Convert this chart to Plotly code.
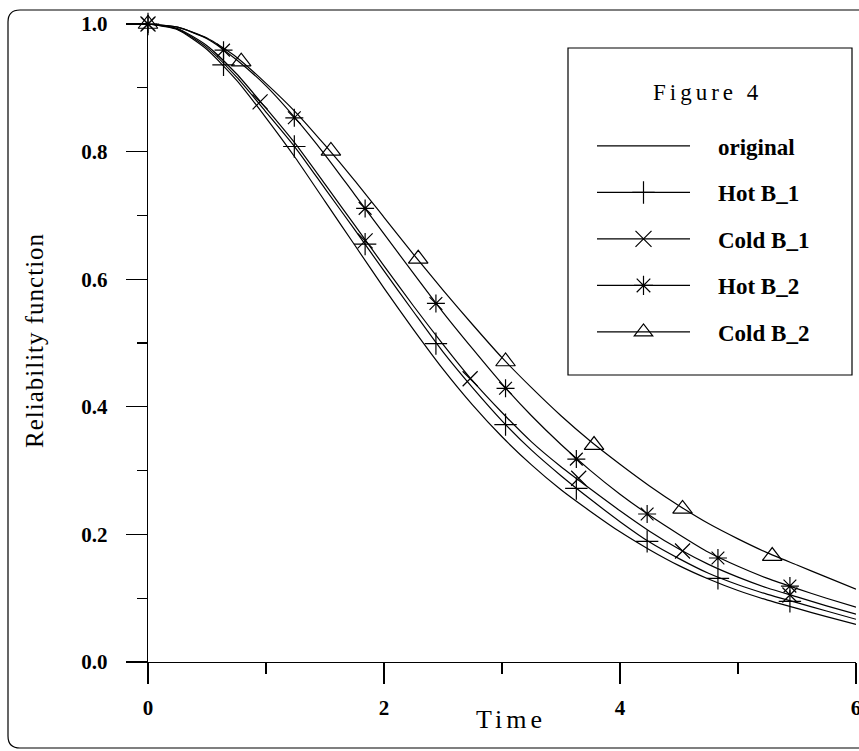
import plotly.graph_objects as go

# ---------------- data ----------------
x_grid = [0, 0.25, 0.5, 0.75, 1.0, 1.25, 1.5, 1.75, 2.0, 2.25, 2.5, 2.75, 3.0,
          3.25, 3.5, 3.75, 4.0, 4.25, 4.5, 4.75, 5.0, 5.25, 5.5, 5.75, 6.0]

original = [1.0, 0.991, 0.960, 0.912, 0.853, 0.790, 0.722, 0.654, 0.586, 0.521, 0.459, 0.403, 0.353,
            0.309, 0.270, 0.236, 0.204, 0.176, 0.151, 0.130, 0.112, 0.097, 0.084, 0.071, 0.059]
hot_b1 = [1.0, 0.992, 0.963, 0.917, 0.862, 0.806, 0.742, 0.678, 0.613, 0.549, 0.486, 0.430, 0.378,
          0.332, 0.292, 0.255, 0.220, 0.188, 0.162, 0.139, 0.121, 0.106, 0.093, 0.080, 0.067]
cold_b1 = [1.0, 0.993, 0.966, 0.922, 0.868, 0.812, 0.749, 0.685, 0.621, 0.558, 0.498, 0.441, 0.391,
           0.345, 0.306, 0.271, 0.237, 0.205, 0.177, 0.153, 0.133, 0.116, 0.102, 0.088, 0.075]
hot_b2 = [1.0, 0.995, 0.977, 0.944, 0.903, 0.852, 0.795, 0.733, 0.671, 0.609, 0.548, 0.491, 0.436,
          0.386, 0.341, 0.300, 0.263, 0.230, 0.200, 0.172, 0.150, 0.131, 0.115, 0.100, 0.086]
cold_b2 = [1.0, 0.995, 0.978, 0.948, 0.907, 0.862, 0.810, 0.755, 0.697, 0.639, 0.583, 0.529, 0.477,
           0.430, 0.386, 0.346, 0.310, 0.276, 0.245, 0.217, 0.193, 0.171, 0.152, 0.133, 0.114]

# marker positions
hot_b1_mx = [0, 0.64, 1.24, 1.84, 2.44, 3.03, 3.63, 4.23, 4.83, 5.44]
hot_b1_my = [1.0, 0.936, 0.808, 0.655, 0.499, 0.372, 0.272, 0.189, 0.131, 0.095]
hot_b2_mx = [0, 0.64, 1.24, 1.84, 2.44, 3.03, 3.63, 4.23, 4.83, 5.44]
hot_b2_my = [1.0, 0.959, 0.853, 0.711, 0.562, 0.429, 0.318, 0.232, 0.163, 0.119]
cold_b1_mx = [0, 0.95, 1.84, 2.73, 3.65, 4.53, 5.44]
cold_b1_my = [1.0, 0.878, 0.660, 0.444, 0.288, 0.174, 0.105]
cold_b2_mx = [0, 0.79, 1.55, 2.29, 3.03, 3.78, 4.53, 5.29]
cold_b2_my = [1.0, 0.941, 0.801, 0.632, 0.471, 0.340, 0.240, 0.166]

series_names = ["original", "Hot B_1", "Cold B_1", "Hot B_2", "Cold B_2"]
x_ticks = [0, 2, 4, 6]
x_minor = [1, 3, 5]
y_ticks = [0.0, 0.2, 0.4, 0.6, 0.8, 1.0]
y_ticklabels = ["0.0", "0.2", "0.4", "0.6", "0.8", "1.0"]
y_minor = [0.1, 0.3, 0.5, 0.7, 0.9]

# ---------------- figure ----------------
W, H = 859, 751
L, R, T, B = 148, 3, 24, 89
PW, PH = W - L - R, H - T - B

def px(xp):                   # pixel -> paper fraction
    return (xp - L) / PW

def py(yp):
    return (H - B - yp) / PH

SERIF = "Liberation Serif"
LW = 1.2
fig = go.Figure()

lines = [original, hot_b1, cold_b1, hot_b2, cold_b2]
for ys in lines:
    fig.add_trace(go.Scatter(x=x_grid, y=ys, mode="lines",
                             line=dict(color="black", width=LW, shape="spline", smoothing=0.6),
                             showlegend=False, hoverinfo="skip", cliponaxis=False))

markers = [
    (hot_b1_mx, hot_b1_my, "cross-thin-open", 16),
    (cold_b1_mx, cold_b1_my, "x-thin-open", 15),
    (hot_b2_mx, hot_b2_my, "asterisk-open", 15),
    (cold_b2_mx, cold_b2_my, "triangle-up-open", 17),
]
for mx, my, sym, sz in markers:
    fig.add_trace(go.Scatter(x=mx, y=my, mode="markers",
                             marker=dict(symbol=sym, size=sz, color="black", line=dict(color="black", width=LW)),
                             showlegend=False, hoverinfo="skip", cliponaxis=False))

# legend entries
PAD = "\u00a0" * 4
leg_syms = [None, "cross-thin-open", "x-thin-open", "asterisk-open", "triangle-up-open"]
for i, (name, sym) in enumerate(zip(series_names, leg_syms)):
    if sym is None:
        fig.add_trace(go.Scatter(x=[None], y=[None], mode="lines", name=PAD + name,
                                 line=dict(color="black", width=LW), legendgroup=f"g{i}"))
    else:
        fig.add_trace(go.Scatter(x=[None], y=[None], mode="lines+markers", name=PAD + name,
                                 line=dict(color="black", width=LW),
                                 marker=dict(symbol=sym, size=20, color="black", line=dict(color="black", width=LW)),
                                 legendgroup=f"g{i}"))

tickfont = dict(family=SERIF, size=21, color="black", weight="bold")
fig.update_layout(
    width=W, height=H,
    margin=dict(l=L, r=R, t=T, b=B, autoexpand=False),
    paper_bgcolor="white", plot_bgcolor="white",
    xaxis=dict(range=[0, 6], tickvals=x_ticks, ticks="outside", ticklen=21, tickwidth=1.2, tickcolor="black",
               showline=True, linecolor="black", linewidth=1.2, showgrid=False, zeroline=False,
               tickfont=tickfont, ticklabelstandoff=6, ticklabeloverflow="allow",
               minor=dict(tickvals=x_minor, ticks="outside", ticklen=11, tickwidth=1.2, tickcolor="black", showgrid=False)),
    yaxis=dict(range=[0, 1], tickvals=y_ticks, ticktext=y_ticklabels, ticks="outside", ticklen=21, tickwidth=1.2,
               tickcolor="black", showline=True, linecolor="black", linewidth=1.2, showgrid=False, zeroline=False,
               tickfont=tickfont, ticklabelstandoff=14,
               minor=dict(tickvals=y_minor, ticks="outside", ticklen=10, tickwidth=1.2, tickcolor="black", showgrid=False)),
    legend=dict(x=px(592), y=py(124.5), xanchor="left", yanchor="top", bgcolor="rgba(0,0,0,0)", borderwidth=0,
                font=dict(family=SERIF, size=23, color="black", weight="bold"),
                itemwidth=93, tracegroupgap=13.6, itemclick=False, traceorder="grouped"),
    showlegend=True,
)

# legend box & title
fig.add_shape(type="rect", xref="paper", yref="paper", x0=px(568), x1=px(852), y0=py(375), y1=py(48),
              line=dict(color="black", width=1.2), fillcolor="rgba(0,0,0,0)", layer="above")
fig.add_annotation(text="Figure 4", xref="paper", yref="paper", x=px(708), y=py(92),
                   showarrow=False, font=dict(family=SERIF, size=23, color="black"),
                   xanchor="center", yanchor="middle")

# outer rounded frame (open on the right side, as in the reference)
r = 12
x0, y0, x1, y1 = 8, 10, 870, 748
path = (f"M {px(x0)},{py(y0 + r)} Q {px(x0)},{py(y0)} {px(x0 + r)},{py(y0)} L {px(x1)},{py(y0)} "
        f"M {px(x0)},{py(y0 + r)} L {px(x0)},{py(y1 - r)} Q {px(x0)},{py(y1)} {px(x0 + r)},{py(y1)} L {px(x1)},{py(y1)}")
fig.add_shape(type="path", xref="paper", yref="paper", path=path, line=dict(color="black", width=1.2))

# axis titles
fig.add_annotation(text="Time", xref="paper", yref="paper", x=px(511), y=py(719), showarrow=False,
                   font=dict(family=SERIF, size=26, color="black"), xanchor="center", yanchor="middle")
fig.add_annotation(text="Reliability function", xref="paper", yref="paper", x=px(34), y=py(340), showarrow=False,
                   textangle=-90, font=dict(family=SERIF, size=25, color="black"), xanchor="center", yanchor="middle")

post = """
document.body.style.margin='0';
document.body.style.overflow='hidden';
var ann = document.querySelectorAll('.annotation-text');
var sp = ['4px', '4px', '1px'];
ann.forEach(function(t, i){ if (i < sp.length) { t.style.letterSpacing = sp[i]; } });
"""
fig.write_html("out.html", config={"displayModeBar": False, "staticPlot": True}, post_script=post)
